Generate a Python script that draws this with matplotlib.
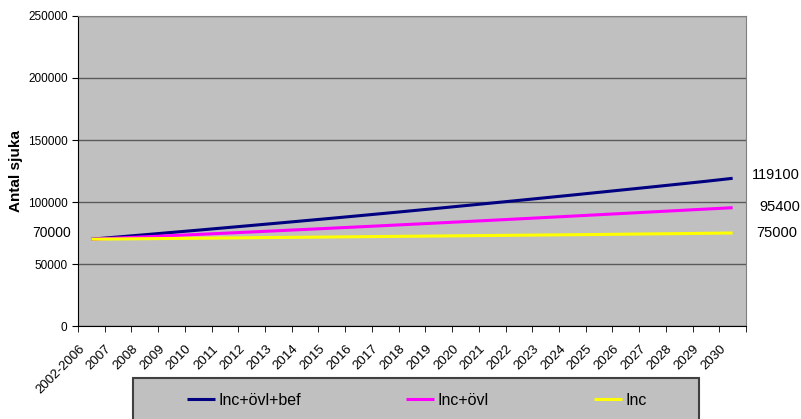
import matplotlib
matplotlib.use("Agg")
import matplotlib.pyplot as plt
import matplotlib.transforms as mtransforms
from matplotlib.patches import Rectangle

plt.rcParams['font.family'] = ['Liberation Sans', 'DejaVu Sans']

categories = ['2002-2006'] + [str(y) for y in range(2007, 2031)]

inc_ovl_bef = [70000, 71800, 73600, 75450, 77300, 79200, 81100, 83000, 84950, 86900,
               88900, 90900, 92950, 95000, 97100, 99200, 101300, 103450, 105600, 107800,
               110000, 112200, 114450, 116700, 119100]
inc_ovl = [70000, 70950, 71900, 72870, 73850, 74840, 75840, 76850, 77870, 78900,
           79940, 80990, 82050, 83120, 84200, 85290, 86390, 87500, 88620, 89750,
           90890, 92030, 93170, 94290, 95400]
inc = [70000, 70200, 70400, 70600, 70800, 71000, 71200, 71400, 71600, 71800,
       72000, 72200, 72400, 72600, 72800, 73000, 73200, 73400, 73600, 73800,
       74050, 74300, 74500, 74750, 75000]

end_labels = ['119100', '95400', '75000']
series_names = ['Inc+övl+bef', 'Inc+övl', 'Inc']
colors = ['#000080', '#FF00FF', '#FFFF00']
# pixel offsets of the end labels from the last point of each line
label_offsets = [(19, 3), (27, 1), (24, 0)]

fig = plt.figure(figsize=(8.01, 4.19), dpi=100)
ax = fig.add_axes([78/801, 1 - 326/419, 668/801, 310/419])
ax.set_facecolor('#C0C0C0')

x = list(range(len(categories)))
series = [inc_ovl_bef, inc_ovl, inc]
lines = []
for vals, name, col in zip(series, series_names, colors):
    l, = ax.plot(x, vals, color=col, lw=2.2, label=name, solid_capstyle='butt', zorder=3)
    lines.append(l)

ax.set_xlim(-0.5, len(categories) - 0.5)
ax.set_ylim(0, 250000)
ax.set_yticks([0, 50000, 100000, 150000, 200000, 250000])
ax.set_yticklabels(['0', '50000', '100000', '150000', '200000', '250000'], fontsize=8.5)
ax.yaxis.grid(True, color='#5a5a5a', lw=1)
ax.set_axisbelow(True)

# category ticks sit between the categories, labels are drawn as rotated texts
ax.set_xticks([])
ax.set_xticks([i - 0.5 for i in range(len(categories) + 1)], minor=True)
ax.tick_params(axis='x', which='minor', length=4, color='black', direction='out')
ax.tick_params(axis='y', length=4, color='black', direction='out')
lab_shift = ax.get_xaxis_transform() + mtransforms.ScaledTranslation(-0.13, -0.17, fig.dpi_scale_trans)
for xi, cat in zip(x, categories):
    ax.text(xi, 0, cat, transform=lab_shift, rotation=45, ha='right', va='top',
            rotation_mode='anchor', fontsize=9.5)

for side in ['top', 'right']:
    ax.spines[side].set_color('#808080')
for side in ['left', 'bottom']:
    ax.spines[side].set_color('black')

ax.set_ylabel('Antal sjuka', fontsize=11, fontweight='bold')
ax.yaxis.set_label_coords(-(78 - 23) / 668, 0.5)

ax.annotate('70000', xy=(0, 75000), xycoords=ax.get_yaxis_transform(),
            xytext=(-7, 0), textcoords='offset pixels', ha='right', va='center', fontsize=10)

# end values written to the right of the plot
for vals, lab, off in zip(series, end_labels, label_offsets):
    ax.annotate(lab, xy=(x[-1], vals[-1]), xytext=off, textcoords='offset pixels',
                ha='left', va='center', fontsize=10.5, annotation_clip=False)

# legend box, partly cut by the lower edge of the figure
fig.patches.append(Rectangle((133/801, -0.05), (699 - 133)/801, 0.05 + 1 - 378/419,
                             transform=fig.transFigure, facecolor='#C0C0C0',
                             edgecolor='#404040', lw=1.5, zorder=0))
fig.legend(handles=lines, loc='center left', ncol=3,
           bbox_to_anchor=(187/801, 1 - 400/419),
           fontsize=11.5, frameon=False, borderpad=0, borderaxespad=0,
           handlelength=1.75, handletextpad=0.2, columnspacing=6.6)

fig.savefig('out.png', dpi=100)
